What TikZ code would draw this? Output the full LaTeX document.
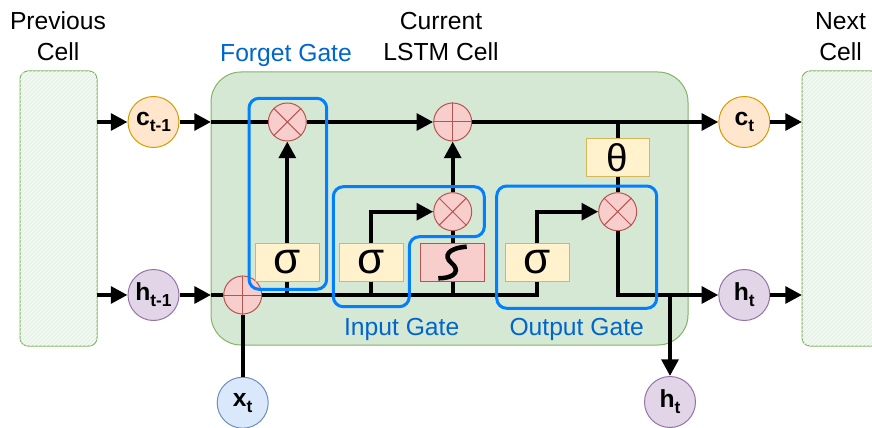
\documentclass[tikz,border=0pt]{standalone}
\usepackage{fontspec}
\setmainfont{Liberation Sans}
\usetikzlibrary{arrows.meta,patterns}
\definecolor{orF}{HTML}{FFE6CC}\definecolor{orD}{HTML}{D79B00}
\definecolor{puF}{HTML}{E1D5E7}\definecolor{puD}{HTML}{9673A6}
\definecolor{blF}{HTML}{DAE8FC}\definecolor{blD}{HTML}{6C8EBF}
\definecolor{grF}{HTML}{D5E8D4}\definecolor{grD}{HTML}{82B366}
\definecolor{grL}{HTML}{E9F3E8}
\definecolor{yeF}{HTML}{FFF2CC}\definecolor{yeD}{HTML}{D6B656}
\definecolor{reF}{HTML}{F8CECC}\definecolor{reD}{HTML}{B85450}
\definecolor{gateB}{HTML}{007FFF}\definecolor{gateT}{HTML}{0066CC}
\newcommand\lab[2]{\textbf{#1}\raisebox{-4.5pt}{\fontsize{13}{13}\selectfont\bfseries #2}}
\tikzset{
  big/.style={font=\fontsize{18.5}{22}\selectfont, anchor=base, inner sep=0pt},
  gatelab/.style={big, text=gateT},
  vcirc/.style={circle, minimum size=38.25pt, inner sep=0pt, line width=0.75pt, font=\fontsize{18.5}{20}\selectfont},
  opc/.style={circle, minimum size=28.5pt, inner sep=0pt, draw=reD, fill=reF, line width=0.75pt},
  fbox/.style={rectangle, minimum width=48pt, minimum height=28.8pt, inner sep=0pt, line width=0.75pt},
  ybox/.style={fbox, draw=yeD, fill=yeF},
  sig/.style={ybox, font=\fontsize{33}{33}\selectfont},
  wire/.style={line width=3pt},
  arr/.style={wire, -{Triangle[length=12.5pt,width=12.5pt]}},
  gatebox/.style={draw=gateB, line width=2.25pt, rounded corners=7.5pt},
  cellbox/.style={draw=grD, line width=0.75pt, rounded corners=6pt, fill=grL,
    postaction={pattern=north east lines, pattern color=white}}
}
\begin{document}
\begin{tikzpicture}[x=0.75pt,y=-0.75pt]
\useasboundingbox (0,0) rectangle (872,428);
% side cells
\draw[cellbox] (20,71) rectangle (97,346);
\draw[cellbox] (802,71) rectangle (879,346);
% main cell
\draw[draw=grD, fill=grF, line width=0.75pt, rounded corners=22.5pt] (211,72) rectangle (688,345);
% titles
\node[big] (tp1) at (58,30) {Previous};
\node[big] (tp2) at (58,61) {Cell};
\node[big] (tc1) at (441,30) {Current};
\node[big] (tc2) at (441,61) {LSTM Cell};
\node[big] (tn1) at (840.5,30) {Next};
\node[big] (tn2) at (840.5,61) {Cell};
\node[gatelab] (gf) at (286,61.7) {Forget Gate};
\node[gatelab] (gi) at (401.7,335) {Input Gate};
\node[gatelab] (go) at (576.7,335) {Output Gate};
% value circles
\node[vcirc, draw=orD, fill=orF] (c1) at (153.5,122) {\lab{c}{t-1}};
\node[vcirc, draw=puD, fill=puF] (h1) at (153.5,295) {\lab{h}{t-1}};
\node[vcirc, draw=orD, fill=orF] (ct) at (744.3,122) {\lab{c}{t}};
\node[vcirc, draw=puD, fill=puF] (ht) at (744.3,295) {\lab{h}{t}};
\node[vcirc, draw=blD, fill=blF] (xt) at (242.7,402.7) {\lab{x}{t}};
\node[vcirc, draw=puD, fill=puF] (hb) at (670,402) {\lab{h}{t}};
% operator circles
\node[opc] (fx) at (287.3,122) {};
\node[opc] (ap) at (452.7,122) {};
\node[opc] (ix) at (452.7,211.7) {};
\node[opc] (ox) at (617.7,211.7) {};
\node[opc] (bp) at (242.7,295) {};
\foreach \n in {fx,ix,ox}{\draw[reD, line width=0.75pt] (\n.45) -- (\n.225) (\n.135) -- (\n.315);}
\foreach \n in {ap,bp}{\draw[reD, line width=0.75pt] (\n.north) -- (\n.south) (\n.east) -- (\n.west);}
% activation boxes
\node[sig] (fs) at (287.3,262.5) {\raisebox{-1pt}{σ}};
\node[sig] (is) at (371,262.5) {\raisebox{-1pt}{σ}};
\node[fbox, draw=reD, fill=reF] (th) at (452.7,262.5) {};
\node[sig] (os) at (537,262.5) {\raisebox{-1pt}{σ}};
\node[ybox, minimum width=47.5pt, font=\fontsize{29}{29}\selectfont] (tt) at (617.7,157.5) {θ};
\draw[line width=3.4pt] (466.7,246.7) .. controls (448,248) and (443,256) .. (451.5,263) .. controls (459,269) and (458,278) .. (438.3,278.3);
% coordinates
\coordinate (pc) at (97,122);
\coordinate (ph) at (97,295);
\coordinate (cin) at (211,122);
\coordinate (hin) at (211,295);
\coordinate (nc) at (802,122);
\coordinate (nh) at (802,295);
\coordinate (br) at (670,295);
% wires
\draw[arr] (pc) -- (c1);
\draw[arr] (c1) -- (cin);
\draw[wire] (cin) -- (fx);
\draw[arr] (fx) -- (ap);
\draw[arr] (ap) -- (ct);
\draw[arr] (ct) -- (nc);
\draw[arr] (ph) -- (h1);
\draw[arr] (h1) -- (hin);
\draw[wire] (hin) -- (bp);
\draw[wire] (bp) -- (bp -| os) -- (os);
\draw[wire] (xt) -- (bp);
\draw[wire] (fs |- bp) -- (fs);
\draw[wire] (is |- bp) -- (is);
\draw[wire] (th |- bp) -- (th);
\draw[arr] (fs) -- (fx);
\draw[arr] (is) |- (ix);
\draw[wire] (th) -- (ix);
\draw[arr] (ix) -- (ap);
\draw[arr] (os) |- (ox);
\draw[wire] (tt |- ap) -- (tt);
\draw[wire] (tt) -- (ox);
\draw[arr] (ox) |- (ht);
\draw[arr] (br) -- (hb);
\draw[arr] (ht) -- (nh);
% gates
\draw[gatebox] (249,98.3) rectangle (326.7,289.3);
\draw[gatebox] (333.3,186.7) -- (484.3,186.7) -- (484.3,236.7) -- (409.3,236.7) -- (409.3,306.7) -- (333.3,306.7) -- cycle;
\draw[gatebox] (496.7,186) rectangle (656.7,308.3);
\end{tikzpicture}
\end{document}
